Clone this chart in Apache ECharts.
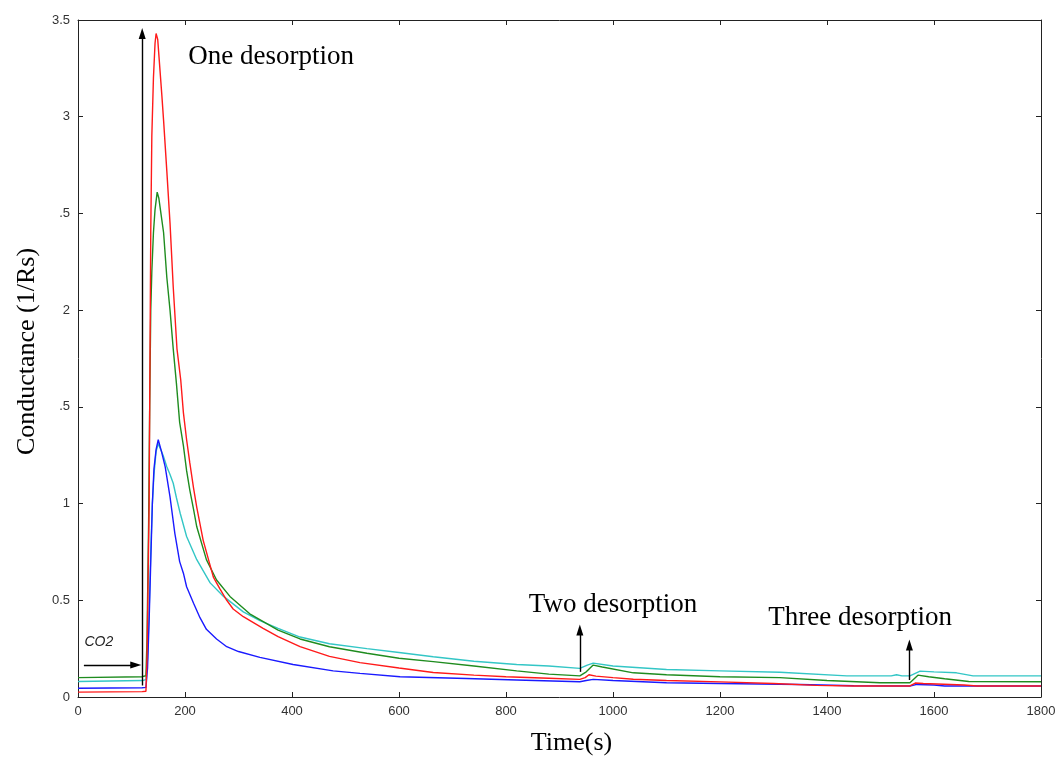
<!DOCTYPE html>
<html>
<head>
<meta charset="utf-8">
<title>Conductance vs time</title>
<script src="https://cdn.jsdelivr.net/npm/echarts@6/dist/echarts.min.js"></script>
<style>
  html, body { margin: 0; padding: 0; background: #ffffff; }
  #chart { width: 1063px; height: 762px; }
</style>
</head>
<body>
<div id="chart"></div>
<script>
// Sensor conductance traces, [time (s), conductance (1/Rs)]
const redTrace = [
  [0,0.025],[120,0.028],[127,0.03],[129,0.2],[131,0.6],[133,1.0],[134,1.5],[136,2.4],[138,2.9],[141,3.2],
  [144,3.38],[146,3.43],[149,3.4],[153,3.25],[157,3.1],[160,2.98],[166,2.72],[172,2.45],[178,2.12],[185,1.8],
  [192,1.64],[197,1.47],[203,1.33],[209,1.21],[216,1.08],[222,0.98],[234,0.81],[253,0.62],[265,0.56],[278,0.5],
  [290,0.455],[309,0.415],[346,0.355],[374,0.312],[415,0.26],[470,0.21],[527,0.178],[600,0.15],[664,0.127],
  [740,0.113],[800,0.105],[880,0.097],[938,0.091],[948,0.1],[955,0.115],[968,0.108],[1000,0.1],[1038,0.092],
  [1100,0.085],[1200,0.078],[1300,0.07],[1380,0.06],[1450,0.057],[1555,0.057],[1565,0.072],[1580,0.07],
  [1656,0.062],[1680,0.057],[1800,0.057]
];
const greenTrace = [
  [0,0.1],[120,0.105],[127,0.11],[129,0.3],[132,0.9],[134,1.5],[136,2.0],[138,2.2],[141,2.4],[144,2.52],
  [148,2.61],[151,2.58],[155,2.5],[160,2.4],[166,2.17],[172,2.0],[178,1.8],[184,1.62],[190,1.42],[197,1.3],
  [203,1.17],[209,1.07],[216,0.97],[222,0.88],[240,0.71],[259,0.605],[284,0.52],[321,0.43],[374,0.346],
  [415,0.3],[470,0.26],[540,0.226],[600,0.2],[664,0.183],[740,0.16],[820,0.135],[880,0.118],[938,0.109],
  [950,0.13],[963,0.165],[980,0.155],[1038,0.125],[1100,0.115],[1200,0.105],[1312,0.1],[1400,0.085],
  [1499,0.074],[1555,0.074],[1570,0.113],[1590,0.105],[1620,0.094],[1665,0.08],[1800,0.079]
];
const cyanTrace = [
  [0,0.08],[120,0.085],[127,0.09],[130,0.2],[133,0.45],[136,0.75],[139,1.0],[142,1.15],[146,1.27],[150,1.31],
  [153,1.31],[159,1.25],[166,1.19],[172,1.15],[178,1.105],[184,1.03],[191,0.95],[203,0.83],[222,0.71],
  [247,0.59],[272,0.52],[309,0.44],[340,0.395],[374,0.355],[415,0.31],[470,0.275],[540,0.25],[600,0.23],
  [664,0.208],[740,0.185],[820,0.168],[880,0.16],[938,0.148],[952,0.165],[963,0.175],[1000,0.16],
  [1100,0.142],[1200,0.135],[1312,0.128],[1437,0.109],[1520,0.109],[1530,0.115],[1540,0.109],[1555,0.109],
  [1574,0.134],[1600,0.13],[1642,0.125],[1673,0.109],[1800,0.109]
];
const blueTrace = [
  [0,0.045],[120,0.048],[127,0.05],[130,0.15],[133,0.4],[136,0.7],[139,1.0],[142,1.18],[146,1.28],[150,1.33],
  [152,1.335],[156,1.27],[163,1.19],[172,1.035],[181,0.846],[190,0.7],[197,0.64],[203,0.57],[216,0.485],
  [228,0.41],[240,0.35],[259,0.3],[278,0.26],[300,0.235],[340,0.205],[402,0.168],[477,0.135],[527,0.122],
  [602,0.105],[726,0.096],[820,0.088],[938,0.079],[950,0.085],[963,0.091],[1000,0.085],[1100,0.074],
  [1200,0.07],[1349,0.065],[1450,0.058],[1555,0.057],[1568,0.065],[1600,0.062],[1620,0.057],[1800,0.057]
];

// Tick labels as printed on the conductance axis
const yTickLabels = { 0: '0', 0.5: '0.5', 1: '1', 1.5: '.5', 2: '2', 2.5: '.5', 3: '3', 3.5: '3.5' };

// Arrow annotations: [from, to] in data coordinates
const arrowSegments = [
  [[120, 0.06], [120, 3.43]],   // CO2 injection marker
  [[11, 0.165], [108, 0.165]],  // CO2 pointer
  [[938, 0.13], [938, 0.346]],  // second desorption
  [[1554, 0.088], [1554, 0.269]] // third desorption
];
// Text notes: [time, conductance, text]
const noteTexts = [
  [361, 3.31, 'One desorption'],
  [1000, 0.476, 'Two desorption'],
  [1462, 0.408, 'Three desorption']
];
const co2Note = [39, 0.284, 'CO2'];

const tickFont = '"Liberation Sans Narrow", "Arial Narrow", "Liberation Sans", Arial, sans-serif';
const serifFont = '"Liberation Serif", "Times New Roman", serif';

const chart = echarts.init(document.getElementById('chart'), null, { renderer: 'canvas' });

const frameLine = { show: true, onZero: false, lineStyle: { color: '#222', width: 1 } };
const innerTick = { show: true, inside: true, length: 5, lineStyle: { color: '#222', width: 1 } };

const traceSeries = (name, data, color) => ({
  name, type: 'line', data, showSymbol: false, symbol: 'none',
  lineStyle: { color, width: 1.4 }, itemStyle: { color }, animation: false, z: 3
});

const option = {
  backgroundColor: '#ffffff',
  animation: false,
  grid: { left: 78, right: 22, top: 20, bottom: 65, containLabel: false },
  xAxis: [
    {
      type: 'value', min: 0, max: 1800, interval: 200, position: 'bottom',
      name: 'Time(s)', nameLocation: 'middle', nameGap: 33,
      nameTextStyle: { fontFamily: serifFont, fontSize: 26, color: '#000', padding: [0, 0, 0, 24] },
      axisLine: frameLine, axisTick: innerTick, splitLine: { show: false },
      axisLabel: { margin: 8, fontFamily: tickFont, fontSize: 13, color: '#333', formatter: v => String(v) }
    },
    {
      type: 'value', min: 0, max: 1800, interval: 200, position: 'top',
      axisLine: frameLine, axisTick: innerTick, splitLine: { show: false },
      axisLabel: { show: false }
    }
  ],
  yAxis: [
    {
      type: 'value', min: 0, max: 3.5, interval: 0.5, position: 'left',
      name: 'Conductance (1/Rs)', nameLocation: 'middle', nameGap: 38, nameRotate: 90,
      nameTextStyle: { fontFamily: serifFont, fontSize: 26, color: '#000', padding: [0, 0, 0, 14] },
      axisLine: frameLine, axisTick: innerTick, splitLine: { show: false },
      axisLabel: {
        margin: 8, fontFamily: tickFont, fontSize: 13, color: '#333',
        formatter: v => yTickLabels[v] !== undefined ? yTickLabels[v] : String(v)
      }
    },
    {
      type: 'value', min: 0, max: 3.5, interval: 0.5, position: 'right',
      axisLine: frameLine, axisTick: innerTick, splitLine: { show: false },
      axisLabel: { show: false }
    }
  ],
  series: [
    traceSeries('cyan', cyanTrace, '#33c6c6'),
    traceSeries('green', greenTrace, '#1f8c1f'),
    traceSeries('blue', blueTrace, '#1a1aff'),
    traceSeries('red', redTrace, '#ff1a1a'),
    {
      name: 'notes', type: 'line', data: [], silent: true, z: 5,
      markLine: {
        silent: true, animation: false,
        symbol: ['none', 'triangle'], symbolSize: [7, 11],
        lineStyle: { color: '#000', width: 1.4, type: 'solid' },
        label: { show: false },
        data: arrowSegments.map(([a, b]) => [{ coord: a }, { coord: b }])
      },
      markPoint: {
        silent: true, animation: false, symbol: 'circle', symbolSize: 0,
        label: { show: true, position: 'inside', formatter: p => p.name, color: '#000',
                 fontFamily: serifFont, fontSize: 27 },
        data: noteTexts.map(([t, v, s]) => ({ name: s, coord: [t, v] })).concat([{
          name: co2Note[2], coord: [co2Note[0], co2Note[1]],
          label: { fontFamily: '"Liberation Sans", Arial, sans-serif', fontStyle: 'italic',
                   fontSize: 14, color: '#222' }
        }])
      }
    }
  ]
};

chart.setOption(option);
</script>
</body>
</html>
